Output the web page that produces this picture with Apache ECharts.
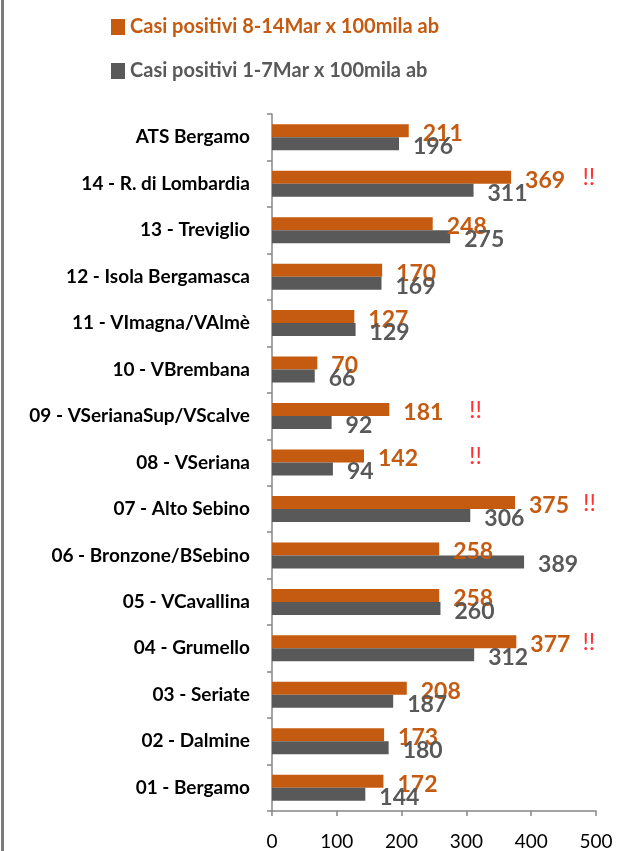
<!DOCTYPE html>
<html>
<head>
<meta charset="utf-8">
<script src="https://cdn.jsdelivr.net/npm/echarts@6/dist/echarts.min.js"></script>
<style>
html,body{margin:0;padding:0;background:#fff;}
#chart{width:618px;height:851px;}
</style>
</head>
<body>
<div id="chart"></div>
<script>
// Categories from bottom to top
var categories = [
  '01 - Bergamo',
  '02 - Dalmine',
  '03 - Seriate',
  '04 - Grumello',
  '05 - VCavallina',
  '06 - Bronzone/BSebino',
  '07 - Alto Sebino',
  '08 - VSeriana',
  '09 - VSerianaSup/VScalve',
  '10 - VBrembana',
  '11 - VImagna/VAlmè',
  '12 - Isola Bergamasca',
  '13 - Treviglio',
  '14 - R. di Lombardia',
  'ATS Bergamo'
];
var seriesNames = ['Casi positivi 8-14Mar x 100mila ab', 'Casi positivi 1-7Mar x 100mila ab'];
var valuesMar8_14 = [172, 173, 208, 377, 258, 258, 375, 142, 181, 70, 127, 170, 248, 369, 211];
var valuesMar1_7  = [144, 180, 187, 312, 260, 389, 306, 94, 92, 66, 129, 169, 275, 311, 196];
// "!!" alert annotations
var alertCategories = ['14 - R. di Lombardia', '09 - VSerianaSup/VScalve', '08 - VSeriana', '07 - Alto Sebino', '04 - Grumello'];
var alertX = [489, 314, 314, 490, 489];
var alertText = '!!';
var xTicks = [0, 100, 200, 300, 400, 500];

var ORANGE = '#C55A11', GRAY = '#595959';
var FONT = 'Lato';

var chart = echarts.init(document.getElementById('chart'), null, {renderer: 'canvas'});
var option = {
  animation: false,
  backgroundColor: '#ffffff',
  textStyle: {fontFamily: FONT},
  graphic: [{
    type: 'rect', left: 1, top: 0,
    shape: {width: 3, height: 851},
    style: {fill: '#7a7a7a'}
  }],
  legend: {
    orient: 'vertical',
    left: 106, top: 12,
    itemWidth: 14, itemHeight: 16,
    itemGap: 24,
    icon: 'rect',
    textStyle: {fontFamily: FONT, fontSize: 20, fontWeight: 'bold'},
    data: [
      {name: seriesNames[0], textStyle: {color: ORANGE}},
      {name: seriesNames[1], textStyle: {color: GRAY}}
    ]
  },
  grid: {left: 272, right: 22, top: 114, bottom: 40, containLabel: false},
  xAxis: {
    type: 'value',
    min: xTicks[0], max: xTicks[xTicks.length - 1], interval: 100,
    axisLine: {show: true, lineStyle: {color: '#868686', width: 1.5}},
    axisTick: {show: true, length: 5, lineStyle: {color: '#868686', width: 1.5}},
    splitLine: {show: false},
    axisLabel: {fontFamily: FONT, fontSize: 19, color: '#000', margin: 21}
  },
  yAxis: {
    type: 'category',
    data: categories,
    axisLine: {show: true, lineStyle: {color: '#868686', width: 1.5}},
    axisTick: {show: true, length: 5, lineStyle: {color: '#868686', width: 1.5}},
    axisLabel: {fontFamily: FONT, fontSize: 19, fontWeight: 'bold', color: '#000', margin: 22}
  },
  series: [
    {
      name: seriesNames[0], type: 'bar', data: valuesMar8_14,
      barWidth: 13, barGap: '0%',
      itemStyle: {color: ORANGE},
      label: {show: true, position: 'right', distance: 14, offset: [0, 3],
        fontFamily: FONT, fontSize: 23, fontWeight: 'bold', color: ORANGE}
    },
    {
      name: seriesNames[1], type: 'bar', data: valuesMar1_7,
      barWidth: 13, barGap: '0%',
      itemStyle: {color: GRAY},
      label: {show: true, position: 'right', distance: 14, offset: [0, 3],
        fontFamily: FONT, fontSize: 23, fontWeight: 'bold', color: GRAY}
    },
    {
      name: 'alert', type: 'scatter',
      data: alertCategories.map(function (c, i) { return [alertX[i], c]; }),
      symbolSize: 1,
      itemStyle: {color: 'rgba(0,0,0,0)'},
      label: {show: true, position: 'inside', offset: [0, -6],
        formatter: function () { return alertText; },
        fontFamily: FONT, fontSize: 24, color: '#FF0000'},
      silent: true
    }
  ]
};
chart.setOption(option);
</script>
</body>
</html>
